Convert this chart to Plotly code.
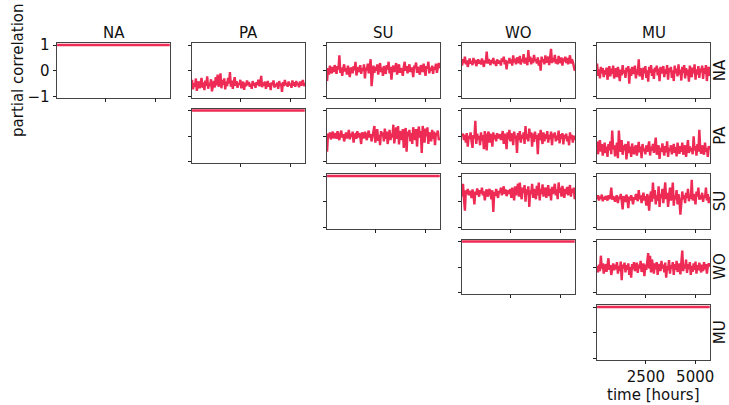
import plotly.graph_objects as go

# ---------------- data ----------------
variables = ["NA", "PA", "SU", "WO", "MU"]
time_hours = list(range(24, 5760, 48))  # 120 sampling times

diag_value = [1.0] * len(time_hours)

NA_PA = [-0.35,-0.72,-0.48,-0.62,-0.30,-0.78,-0.55,-0.41,-0.68,-0.50,
         -0.28,-0.66,-0.45,-0.75,-0.38,-0.58,-0.22,-0.70,-0.47,-0.60,
         -0.33,-0.80,-0.52,-0.40,-0.65,-0.25,-0.57,-0.15,-0.62,-0.44,
         -0.10,-0.68,-0.35,-0.55,-0.30,-0.72,-0.42,-0.60,-0.28,-0.50,
         -0.05,-0.62,-0.38,-0.70,-0.45,-0.25,-0.58,-0.40,-0.66,-0.48,
         -0.55,-0.35,-0.68,-0.50,-0.42,-0.74,-0.47,-0.60,-0.38,-0.56,
         -0.44,-0.62,-0.50,-0.70,-0.40,-0.58,-0.48,-0.66,-0.45,-0.55,
         -0.35,-0.60,-0.52,-0.20,-0.64,-0.46,-0.58,-0.42,-0.70,-0.50,
         -0.40,-0.62,-0.48,-0.75,-0.45,-0.56,-0.38,-0.65,-0.52,-0.60,
         -0.46,-0.70,-0.40,-0.58,-0.50,-0.82,-0.44,-0.60,-0.36,-0.55,
         -0.48,-0.62,-0.42,-0.56,-0.50,-0.66,-0.38,-0.58,-0.45,-0.62,
         -0.40,-0.55,-0.48,-0.64,-0.42,-0.58,-0.50,-0.36,-0.60,-0.46]

NA_SU = [-0.40,0.10,-0.15,0.20,0.00,-0.10,0.15,-0.05,0.22,0.02,
         -0.12,0.18,0.05,0.60,-0.08,0.12,-0.20,0.08,0.25,-0.02,
         0.10,-0.15,0.20,0.00,-0.25,0.12,0.05,-0.10,0.18,0.02,
         0.35,-0.18,0.08,0.15,-0.05,0.22,-0.12,0.10,0.00,0.25,
         -0.30,0.12,0.02,0.28,-0.10,0.18,0.45,-0.60,0.05,0.20,
         -0.08,0.15,0.00,0.25,-0.15,0.10,0.30,-0.05,0.12,-0.20,
         0.18,0.02,-0.12,0.22,0.05,0.35,-0.10,0.15,-0.35,0.08,
         0.20,-0.05,0.12,0.30,-0.15,0.05,0.25,-0.08,0.10,0.02,
         -0.20,0.15,0.35,0.00,0.18,-0.10,0.08,0.25,-0.05,0.12,
         0.05,-0.25,0.20,0.10,0.32,-0.08,0.15,0.00,-0.15,0.22,
         0.10,-0.05,0.28,0.02,-0.20,0.18,0.08,0.35,-0.10,0.12,
         0.00,0.20,-0.12,0.15,0.05,0.28,-0.08,0.12,0.30,0.10]

NA_WO = [0.20,0.45,0.30,0.55,0.25,0.40,0.15,0.35,0.48,0.28,
         0.38,0.22,0.50,0.30,0.42,0.18,0.35,0.45,0.28,0.40,
         0.25,0.48,0.32,0.15,0.40,0.30,0.75,0.28,0.45,0.35,
         0.22,0.42,0.30,0.50,0.26,0.38,0.18,0.44,0.32,0.28,
         0.40,0.20,0.48,0.35,0.55,0.25,0.42,0.05,0.38,0.30,
         0.50,0.28,0.44,0.20,0.60,0.32,0.46,0.25,0.52,0.36,
         0.30,0.58,0.24,0.45,0.35,0.65,0.28,0.50,0.40,0.22,
         0.80,0.35,0.55,0.25,0.48,0.30,0.62,0.38,0.45,0.28,
         0.52,0.20,0.40,0.00,0.55,0.35,0.45,0.25,0.60,0.32,
         0.40,0.55,0.22,0.48,0.85,0.30,0.50,0.35,0.62,0.28,
         0.45,0.25,0.58,0.38,0.30,0.52,0.20,0.48,0.36,0.55,
         0.30,0.50,0.25,0.42,0.60,0.28,0.45,0.35,0.18,0.00]

NA_MU = [0.28,-0.20,0.05,-0.30,0.15,-0.10,0.10,-0.25,0.02,-0.15,
         0.12,-0.35,0.00,0.18,-0.22,0.08,-0.12,0.20,-0.30,-0.02,
         0.10,-0.25,0.15,-0.08,-0.40,0.05,-0.18,0.22,-0.10,0.02,
         -0.28,0.12,-0.05,0.18,-0.50,0.08,-0.20,0.15,-0.12,0.00,
         0.20,-0.30,0.05,-0.15,0.45,-0.22,0.10,-0.05,-0.35,0.12,
         -0.10,0.18,-0.28,0.02,-0.42,0.15,-0.08,0.22,-0.20,0.05,
         -0.32,0.12,-0.05,0.20,-0.18,0.08,-0.40,0.15,-0.10,0.02,
         0.18,-0.25,0.05,-0.12,0.22,-0.35,0.10,-0.05,0.15,-0.28,
         0.02,-0.40,0.20,-0.10,0.08,-0.22,0.25,-0.15,0.05,-0.38,
         0.15,-0.08,0.22,-0.30,0.10,-0.18,0.05,-0.42,0.20,-0.02,
         -0.25,0.12,-0.10,0.25,-0.35,0.05,-0.15,0.18,-0.28,0.08,
         -0.05,0.20,-0.32,0.10,-0.12,0.22,-0.40,0.05,0.15,-0.20]

PA_SU = [-0.60,0.10,-0.05,0.15,-0.12,0.05,0.18,-0.08,0.02,0.12,
         -0.10,0.20,0.00,-0.15,0.10,0.22,-0.05,0.08,-0.20,0.05,
         0.15,-0.08,0.02,0.25,-0.12,0.10,-0.02,0.18,-0.25,0.05,
         0.08,-0.10,0.20,-0.05,0.12,0.00,-0.30,0.15,0.05,-0.08,
         0.18,0.02,-0.15,0.10,0.22,-0.05,0.08,-0.20,0.05,0.15,
         0.40,-0.25,0.10,0.28,-0.18,0.05,-0.35,0.20,0.00,0.15,
         -0.20,0.30,-0.10,0.18,-0.30,0.05,0.25,-0.15,0.10,-0.05,
         0.45,-0.28,0.15,0.35,-0.10,0.40,-0.32,0.20,0.05,-0.15,
         0.28,-0.45,0.10,0.32,-0.60,0.18,0.00,0.25,-0.20,0.12,
         -0.30,0.35,0.05,-0.15,0.28,-0.40,0.15,0.38,-0.05,0.20,
         -0.65,0.40,0.10,-0.25,0.30,0.00,0.35,-0.30,0.15,0.05,
         -0.20,0.25,-0.10,0.18,-0.35,0.12,0.05,0.22,-0.15,-0.05]

PA_WO = [0.00,0.10,-0.15,0.05,-0.25,0.12,-0.40,0.02,-0.10,0.15,
         -0.20,-0.45,0.05,-0.08,0.60,-0.30,0.10,-0.12,0.02,-0.35,
         0.15,-0.18,0.05,-0.50,0.20,-0.10,-0.55,0.08,0.18,-0.25,
         0.10,-0.05,-0.40,0.15,-0.12,0.05,-0.20,0.12,-0.08,0.00,
         0.08,-0.15,0.02,0.20,-0.30,0.10,-0.05,-0.50,0.15,-0.12,
         0.25,-0.20,0.05,0.10,-0.35,0.18,-0.08,0.02,-0.65,0.12,
         -0.15,0.20,-0.25,0.05,-0.10,0.15,-0.30,0.40,-0.12,0.08,
         -0.20,0.30,-0.05,0.15,-0.40,0.10,-0.22,0.18,-0.10,0.05,
         -0.70,0.12,-0.15,0.25,-0.05,-0.30,0.15,-0.20,0.08,-0.10,
         0.20,-0.25,0.05,-0.12,0.18,-0.35,0.10,-0.05,0.15,-0.20,
         0.02,-0.15,0.22,-0.28,0.08,-0.10,0.12,-0.32,0.05,-0.08,
         0.10,-0.20,0.00,-0.35,0.15,-0.12,0.05,-0.25,0.02,-0.15]

PA_MU = [-0.20,-0.70,-0.35,-0.15,-0.60,-0.30,-0.75,-0.45,-0.25,-0.65,
         -0.40,-0.80,-0.30,-0.55,-0.20,-0.70,0.22,-0.50,-0.35,-0.78,
         -0.45,-0.25,-0.85,0.22,-0.40,-0.60,-0.15,-0.72,-0.35,-0.55,
         -0.30,-0.90,-0.50,-0.20,-0.65,-0.40,-0.80,-0.28,-0.55,-0.70,
         -0.45,-0.35,-0.75,-0.50,-0.22,-0.62,-0.40,-0.85,-0.30,-0.58,
         -0.48,-0.70,-0.35,-0.60,-0.45,-0.20,-0.75,-0.40,-0.55,-0.30,
         -0.65,-0.40,-0.05,-0.72,-0.50,-0.35,-0.88,-0.45,-0.60,-0.28,
         -0.55,-0.75,-0.38,-0.62,-0.20,-0.80,-0.45,-0.58,-0.35,-0.70,
         -0.50,-0.30,-0.65,-0.42,-0.78,-0.25,-0.55,-0.68,-0.38,-0.60,
         -0.25,-0.72,-0.48,-0.35,-0.80,-0.52,-0.15,-0.65,-0.40,-0.58,
         -0.45,-0.70,0.00,-0.55,-0.38,-0.75,-0.30,-0.60,0.25,-0.50,
         -0.68,-0.35,-0.55,-0.72,-0.25,-0.60,-0.45,-0.80,-0.38,-0.52]

SU_WO = [0.20,0.70,0.10,-0.35,0.45,0.30,0.50,0.25,0.42,0.35,
         0.15,0.48,0.30,-0.10,0.40,0.28,0.52,0.35,0.20,0.45,
         0.32,0.55,0.25,0.40,0.05,0.38,0.48,0.20,0.35,0.50,
         0.28,0.10,0.45,-0.40,0.38,0.22,0.50,0.30,0.15,0.42,
         0.35,0.55,0.25,0.40,0.60,0.30,0.48,0.22,0.35,0.45,
         0.30,0.50,0.15,0.55,0.38,0.05,0.60,0.25,0.45,0.70,
         0.20,0.75,0.30,0.10,0.55,0.35,0.65,0.00,0.48,0.28,
         0.60,-0.20,0.45,0.30,0.70,0.15,0.50,0.35,0.10,0.62,
         0.25,0.75,0.05,0.50,0.30,0.68,0.20,0.45,0.55,0.15,
         0.40,0.65,0.22,0.50,0.05,0.58,0.30,0.45,0.70,0.25,
         0.48,0.10,0.75,0.35,0.55,0.20,0.62,0.38,0.15,0.50,
         0.30,0.58,0.25,0.45,0.65,0.20,0.50,0.35,0.55,0.10]

SU_MU = [0.10,0.25,0.05,0.20,0.12,0.28,0.02,0.18,0.08,0.22,
         0.15,0.05,0.25,0.10,0.20,0.55,0.08,0.22,0.12,0.00,
         0.18,0.25,-0.05,0.20,0.10,0.30,0.05,-0.30,0.22,0.12,
         0.00,0.28,0.10,-0.25,0.20,0.05,0.25,0.12,-0.10,0.18,
         0.08,0.30,0.15,0.02,0.45,0.10,0.25,-0.05,0.18,0.35,
         0.05,0.22,-0.15,0.30,0.10,-0.35,0.20,0.40,0.00,0.75,
         0.12,0.45,-0.10,0.25,0.05,0.60,-0.20,0.30,0.15,0.50,
         -0.05,0.25,0.75,0.10,0.35,-0.20,0.20,0.55,0.05,0.30,
         0.75,-0.15,0.25,0.10,0.45,-0.10,0.30,0.05,-0.50,0.20,
         0.40,0.10,0.25,-0.05,0.35,0.15,0.50,0.02,0.28,0.12,
         0.85,0.05,0.30,0.15,-0.10,0.40,0.20,0.55,0.08,0.25,
         0.10,0.35,0.00,0.25,0.15,0.55,0.05,0.30,-0.05,0.20]

WO_MU = [0.05,-0.20,0.10,-0.15,0.45,-0.05,0.15,-0.25,0.00,0.12,
         -0.18,0.05,0.35,-0.10,0.08,-0.30,0.02,0.15,-0.12,0.10,
         -0.08,0.20,-0.25,0.05,-0.15,0.22,-0.50,0.10,-0.05,0.18,
         -0.20,0.08,-0.10,0.15,-0.30,0.02,-0.40,0.12,-0.08,0.20,
         -0.15,0.05,0.18,-0.22,0.10,-0.05,0.25,-0.18,0.00,0.15,
         -0.35,0.10,-0.10,0.22,0.55,-0.05,0.45,-0.20,0.30,0.05,
         -0.25,0.15,-0.08,0.20,-0.30,0.05,0.12,-0.15,0.25,-0.05,
         0.10,-0.20,0.18,-0.40,0.05,-0.12,0.28,-0.25,0.08,-0.05,
         0.20,-0.30,0.12,-0.10,0.25,-0.18,0.02,0.15,-0.28,0.08,
         0.65,-0.15,0.10,-0.05,0.30,-0.22,0.12,-0.08,0.20,-0.30,
         0.05,-0.18,0.15,-0.10,0.22,-0.25,0.08,-0.12,0.18,-0.05,
         -0.20,0.10,-0.15,0.20,-0.08,0.12,-0.25,0.05,0.15,0.02]

pairs = {
    (0, 1): NA_PA, (0, 2): NA_SU, (0, 3): NA_WO, (0, 4): NA_MU,
    (1, 2): PA_SU, (1, 3): PA_WO, (1, 4): PA_MU,
    (2, 3): SU_WO, (2, 4): SU_MU,
    (3, 4): WO_MU,
}

x_ticks = [2500, 5000]
y_ticks = [-1, 0, 1]
y_tick_text = ["\u22121", "0", "1"]

# ---------------- layout geometry (pixels) ----------------
W, H = 729, 405
col_left = [57, 192, 327, 462, 597]
col_w = 113
row_top = [43, 108.5, 174, 239.5, 305]
row_h = 54.5

LINE_COLOR = "#EE2B55"
FONT = "DejaVu Sans"
FS = 15

fig = go.Figure()
layout = {}
k = 0
for i in range(5):
    for j in range(5):
        if j < i:
            continue
        k += 1
        sfx = "" if k == 1 else str(k)
        yvals = diag_value if i == j else pairs[(i, j)]
        fig.add_trace(go.Scatter(
            x=time_hours, y=yvals, mode="lines",
            line=dict(color=LINE_COLOR, width=2.4),
            xaxis="x" + sfx, yaxis="y" + sfx, showlegend=False,
            hoverinfo="skip"))
        x0 = col_left[j] / W
        x1 = (col_left[j] + col_w) / W
        y1 = 1 - row_top[i] / H
        y0 = 1 - (row_top[i] + row_h) / H
        layout["xaxis" + sfx] = dict(
            domain=[x0, x1], anchor="y" + sfx, range=[20, 5750],
            tickvals=x_ticks, showticklabels=(i == 4 and j == 4),
            ticks="outside", ticklen=3.5, tickwidth=0.8, tickcolor="#222",
            showline=True, linecolor="#444", linewidth=0.8, mirror=True,
            showgrid=False, zeroline=False, automargin=False,
            tickfont=dict(family=FONT, size=FS, color="#111"))
        layout["yaxis" + sfx] = dict(
            domain=[y0, y1], anchor="x" + sfx, range=[-1.04, 1.08],
            tickvals=y_ticks, ticktext=y_tick_text,
            showticklabels=(i == 0 and j == 0),
            ticks="outside", ticklen=3.5, tickwidth=0.8, tickcolor="#222",
            showline=True, linecolor="#444", linewidth=0.8, mirror=True,
            showgrid=False, zeroline=False, automargin=False,
            tickfont=dict(family=FONT, size=FS, color="#111"))

annotations = []
for j, name in enumerate(variables):
    annotations.append(dict(
        text=name, x=(col_left[j] + col_w / 2) / W, y=1 - 33 / H,
        xref="paper", yref="paper", showarrow=False,
        font=dict(family=FONT, size=FS, color="#111"),
        xanchor="center", yanchor="middle"))
for i, name in enumerate(variables):
    annotations.append(dict(
        text=name, x=720 / W, y=1 - (row_top[i] + row_h / 2) / H,
        xref="paper", yref="paper", showarrow=False, textangle=-90,
        font=dict(family=FONT, size=FS, color="#111"),
        xanchor="center", yanchor="middle"))
annotations.append(dict(
    text="partial correlation", x=18 / W, y=1 - 70 / H,
    xref="paper", yref="paper", showarrow=False, textangle=-90,
    font=dict(family=FONT, size=FS, color="#111"),
    xanchor="center", yanchor="middle"))
annotations.append(dict(
    text="time [hours]", x=(col_left[4] + col_w / 2) / W, y=1 - 395 / H,
    xref="paper", yref="paper", showarrow=False,
    font=dict(family=FONT, size=FS, color="#111"),
    xanchor="center", yanchor="middle"))

fig.update_layout(
    template="none",
    width=W, height=H, margin=dict(l=0, r=0, t=0, b=0, autoexpand=False),
    paper_bgcolor="white", plot_bgcolor="white",
    annotations=annotations, **layout)

fig.write_html(
    "out.html",
    config={"displayModeBar": False},
    post_script="document.body.style.margin='0';document.body.style.overflow='hidden';")
